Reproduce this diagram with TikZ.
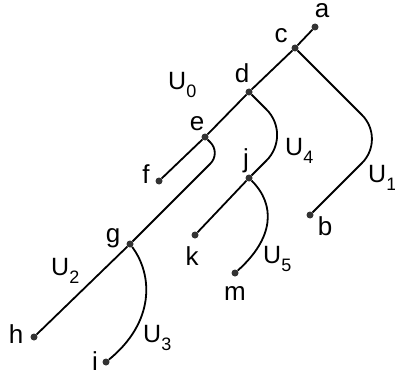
\documentclass[tikz,border=0pt]{standalone}
\usepackage{fontspec}
\setmainfont{Liberation Sans}
\usepackage{tikz}

\tikzset{
  vtx/.style={circle,fill=black!80,inner sep=0pt,minimum size=7pt},
  lbl/.style={inner sep=0pt,anchor=base,font=\fontsize{26}{26}\selectfont},
  ulbl/.style={inner sep=0pt,anchor=base west,font=\fontsize{25}{25}\selectfont},
  edge/.style={line width=1.8pt}
}
\newcommand{\Usub}[1]{U\raisebox{-8pt}{\fontsize{18}{18}\selectfont #1}}

\begin{document}
\begin{tikzpicture}[x=1pt,y=1pt]
  \useasboundingbox (0,0) rectangle (395,-374);
  % vertices
  \node[vtx] (a) at (315,-27) {};
  \node[vtx] (c) at (295,-48) {};
  \node[vtx] (d) at (249,-92) {};
  \node[vtx] (e) at (205,-137) {};
  \node[vtx] (f) at (159,-181) {};
  \node[vtx] (g) at (130,-244) {};
  \node[vtx] (h) at (34,-337) {};
  \node[vtx] (i) at (106,-362) {};
  \node[vtx] (j) at (249,-178) {};
  \node[vtx] (k) at (195,-235) {};
  \node[vtx] (m) at (235,-273) {};
  \node[vtx] (b) at (310,-215) {};
  % corners of the bent edges
  \coordinate (cb) at (386,-139);
  \coordinate (dj) at (292,-135);
  \coordinate (eg) at (221,-153);
  % edges
  \draw[edge] (a) -- (c) -- (d) -- (e) -- (f);
  \draw[edge,rounded corners=34pt] (c) -- (cb) -- (b);
  \draw[edge,rounded corners=36pt] (d) -- (dj) -- (j);
  \draw[edge,rounded corners=15pt] (e) -- (eg) -- (g);
  \draw[edge] (g) -- (h);
  \draw[edge] (j) -- (k);
  \draw[edge] (j) .. controls (276,-205) and (274,-238) .. (m);
  \draw[edge] (g) .. controls (153,-275) and (155,-322) .. (i);
  % vertex labels
  \node[lbl] (la) at (322,-18) {a};
  \node[lbl] (lc) at (281,-43) {c};
  \node[lbl] (ld) at (242,-83) {d};
  \node[lbl] (le) at (197,-130) {e};
  \node[lbl] (lf) at (146,-183) {f};
  \node[lbl] (lg) at (113,-242) {g};
  \node[lbl] (lh) at (16,-343) {h};
  \node[lbl] (li) at (95,-370) {i};
  \node[lbl] (lj) at (246,-167) {j};
  \node[lbl] (lk) at (192,-265) {k};
  \node[lbl] (lm) at (235,-300) {m};
  \node[lbl] (lb) at (325,-235) {b};
  % subtree labels
  \node[ulbl] (u0) at (168,-90) {\Usub{0}};
  \node[ulbl] (u1) at (368,-182) {\Usub{1}};
  \node[ulbl] (u2) at (51,-275) {\Usub{2}};
  \node[ulbl] (u3) at (143,-342) {\Usub{3}};
  \node[ulbl] (u4) at (285,-155) {\Usub{4}};
  \node[ulbl] (u5) at (263,-263) {\Usub{5}};
\end{tikzpicture}
\end{document}
